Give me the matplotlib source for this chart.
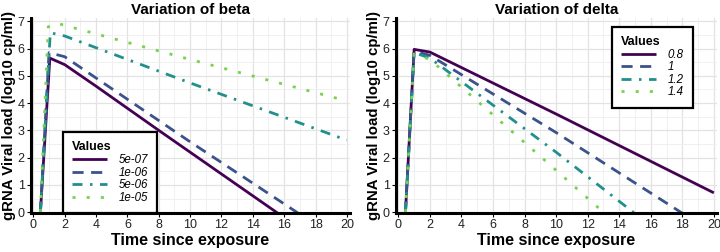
import matplotlib.pyplot as plt
import numpy as np
from matplotlib.ticker import MultipleLocator

plt.rcParams['font.family'] = ['Liberation Sans', 'DejaVu Sans']

# ---- data ----
beta_labels = ['5e-07', '1e-06', '5e-06', '1e-05']
beta_t = [
    [0.45, 1.05, 2.0, 4.0, 8.0, 15.5, 16.0],
    [0.45, 1.0, 2.0, 10.0, 16.8, 17.5],
    [0.45, 1.08, 2.0, 10.0, 20.0],
    [0.45, 0.95, 1.5, 2.0, 10.0, 20.0],
]
beta_v = [
    [0.0, 5.65, 5.41, 4.62, 3.0, 0.0, -0.2],
    [0.0, 5.85, 5.7, 2.58, 0.0, -0.3],
    [0.0, 6.58, 6.46, 4.74, 2.64],
    [0.0, 6.8, 6.93, 6.85, 5.6, 4.08],
]

delta_labels = ['0.8', '1', '1.2', '1.4']
delta_t = [
    [0.45, 1.0, 2.0, 10.0, 20.0],
    [0.45, 1.0, 2.0, 10.0, 17.9, 18.5],
    [0.45, 1.0, 2.0, 10.0, 14.6, 15.0],
    [0.45, 1.0, 2.0, 9.7, 12.7, 13.0],
]
delta_v = [
    [0.0, 5.97, 5.87, 3.6, 0.71],
    [0.0, 5.9, 5.75, 2.92, 0.0, -0.2],
    [0.0, 5.85, 5.65, 2.2, 0.13, -0.05],
    [0.0, 5.8, 5.6, 1.69, 0.15, 0.0],
]

colors = ['#440154', '#3B528B', '#21908C', '#7AD151']
styles = ['-', (0, (4.0, 2.7)), (0, (3.6, 2.7, 0.9, 2.7)), (0, (1.1, 4.0))]


def draw_panel(ax, ts, vs, labels, title, legend_anchor, legend_loc):
    for t, v, lab, c, ls in zip(ts, vs, labels, colors, styles):
        ax.plot(t, v, color=c, linestyle=ls, lw=2.0, label=lab,
                solid_capstyle='butt', dash_capstyle='butt')
    ax.set_xlim(-0.15, 20.2)
    ax.set_ylim(-0.03, 7.12)
    ax.xaxis.set_major_locator(MultipleLocator(2))
    ax.xaxis.set_minor_locator(MultipleLocator(1))
    ax.yaxis.set_major_locator(MultipleLocator(1))
    ax.yaxis.set_minor_locator(MultipleLocator(0.5))
    ax.grid(which='major', color='#e3e3e3', lw=0.9)
    ax.grid(which='minor', color='#eeeeee', lw=0.6)
    ax.set_axisbelow(True)
    for s in ['top', 'right']:
        ax.spines[s].set_visible(False)
    for s in ['left', 'bottom']:
        ax.spines[s].set_linewidth(2.2)
        ax.spines[s].set_color('black')
    ax.tick_params(which='major', length=3, width=0.8, color='black',
                   labelsize=9, labelcolor='#222222', pad=1.5)
    ax.tick_params(which='minor', length=0)
    ax.set_xlabel('Time since exposure', fontsize=11.5, fontweight='bold', labelpad=1)
    ax.set_ylabel('gRNA Viral load (log10 cp/ml)', fontsize=10.8, fontweight='bold', labelpad=1)
    ax.set_title(title, fontsize=11, fontweight='bold', pad=3)
    leg = ax.legend(title='Values', loc=legend_loc, bbox_to_anchor=legend_anchor,
                    fontsize=8.3, title_fontsize=9, handlelength=3.0,
                    handletextpad=1.05, labelspacing=0.05, borderpad=0.8,
                    borderaxespad=0, fancybox=False, framealpha=1,
                    edgecolor='black')
    leg.get_frame().set_linewidth(1.6)
    leg.get_title().set_fontweight('bold')
    leg._legend_box.align = 'left'
    for txt in leg.get_texts():
        txt.set_fontstyle('italic')
    return ax


fig = plt.figure(figsize=(7.2, 2.52), dpi=100)
ax1 = fig.add_axes([31 / 720, 1 - 213 / 252, 319 / 720, 195 / 252])
ax2 = fig.add_axes([396 / 720, 1 - 213 / 252, 321 / 720, 195 / 252])

draw_panel(ax1, beta_t, beta_v, beta_labels, 'Variation of beta', (0.1, 0.0), 'lower left')
draw_panel(ax2, delta_t, delta_v, delta_labels, 'Variation of delta', (0.673, 0.955), 'upper left')

fig.savefig('out.png', dpi=100)
